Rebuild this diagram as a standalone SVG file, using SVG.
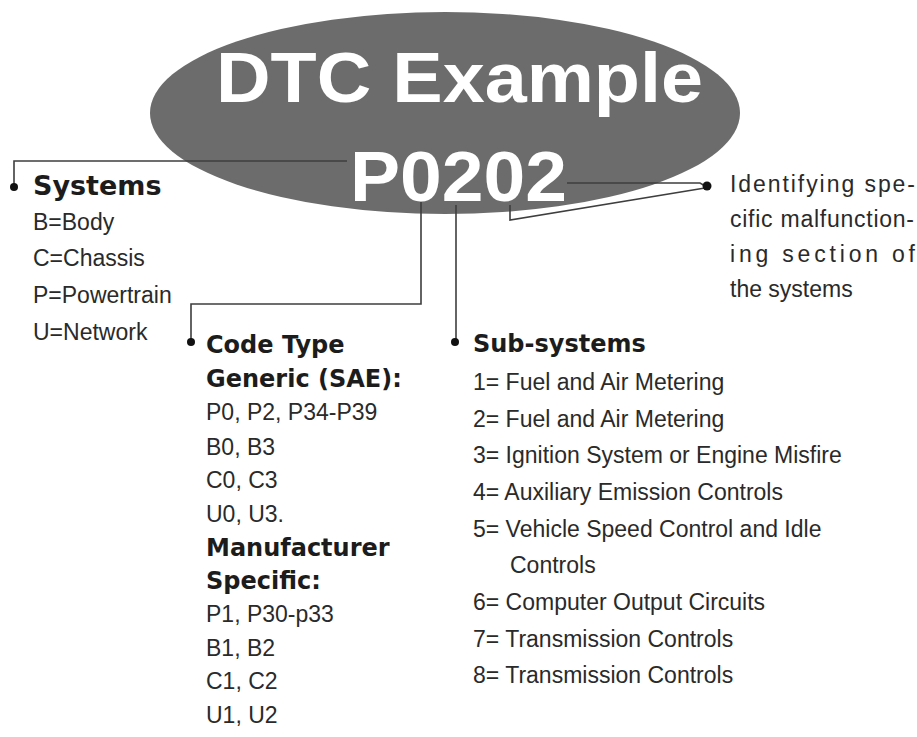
<svg xmlns="http://www.w3.org/2000/svg" width="917" height="737" viewBox="0 0 917 737">
<style>
.bg{fill:#ffffff}
.ell{fill:#6c6c6c}
.title{font-family:"Liberation Sans",Arial,sans-serif;font-weight:bold;fill:#ffffff;font-size:70px}
.head{font-family:"DejaVu Sans",Verdana,sans-serif;font-weight:bold;fill:#1c1c1c}
.body{font-family:"Liberation Sans",Arial,sans-serif;font-size:23px;fill:#2a2a2a}
.conn{fill:none;stroke:#3e3e3e;stroke-width:1.6}
.dot{fill:#111111}
</style>
<rect class="bg" x="0" y="0" width="917" height="737"/>
<g id="dtc-example">
<ellipse class="ell" cx="445" cy="113" rx="295" ry="101"/>
<text class="title" x="216" y="102" textLength="487" lengthAdjust="spacingAndGlyphs">DTC Example</text>
<text class="title" x="350" y="201" font-size="73" textLength="217" lengthAdjust="spacingAndGlyphs">P0202</text>
</g>
<g id="connectors">
<polyline class="conn" points="347,161 14,161 14,187"/>
<polyline class="conn" points="421,202 421,304 191,304 191,342"/>
<polyline class="conn" points="456,205 456,342"/>
<polyline class="conn" points="567,183 700,183 707,187"/>
<polyline class="conn" points="510,205 510,220 705,188"/>
<circle class="dot" cx="14" cy="187" r="4"/>
<circle class="dot" cx="191" cy="342" r="4"/>
<circle class="dot" cx="455" cy="342" r="4"/>
<circle class="dot" cx="707" cy="186" r="4.5"/>
</g>
<g id="systems">
<text class="head" x="33" y="195" font-size="27">Systems</text>
<text class="body" x="33" y="230">B=Body</text>
<text class="body" x="33" y="266">C=Chassis</text>
<text class="body" x="33" y="303">P=Powertrain</text>
<text class="body" x="33" y="340">U=Network</text>
</g>
<g id="code-type">
<text class="head" x="206" y="353" font-size="24">Code Type</text>
<text class="head" x="206" y="387" font-size="24">Generic (SAE):</text>
<text class="body" x="206" y="420">P0, P2, P34-P39</text>
<text class="body" x="206" y="455">B0, B3</text>
<text class="body" x="206" y="488">C0, C3</text>
<text class="body" x="206" y="522">U0, U3.</text>
<text class="head" x="206" y="556" font-size="24">Manufacturer</text>
<text class="head" x="206" y="589" font-size="24">Specific:</text>
<text class="body" x="206" y="622">P1, P30-p33</text>
<text class="body" x="206" y="656">B1, B2</text>
<text class="body" x="206" y="689">C1, C2</text>
<text class="body" x="206" y="723">U1, U2</text>
</g>
<g id="sub-systems">
<text class="head" x="473" y="352" font-size="24">Sub-systems</text>
<text class="body" x="473" y="390">1= Fuel and Air Metering</text>
<text class="body" x="473" y="427">2= Fuel and Air Metering</text>
<text class="body" x="473" y="463">3= Ignition System or Engine Misfire</text>
<text class="body" x="473" y="500">4= Auxiliary Emission Controls</text>
<text class="body" x="473" y="537">5= Vehicle Speed Control and Idle</text>
<text class="body" x="510" y="573">Controls</text>
<text class="body" x="473" y="610">6= Computer Output Circuits</text>
<text class="body" x="473" y="647">7= Transmission Controls</text>
<text class="body" x="473" y="683">8= Transmission Controls</text>
</g>
<g id="identifying">
<text class="body" x="730" y="192" textLength="185" lengthAdjust="spacing">Identifying spe-</text>
<text class="body" x="730" y="227" textLength="184" lengthAdjust="spacing">cific malfunction-</text>
<text class="body" x="730" y="262" textLength="185" lengthAdjust="spacing">ing section of</text>
<text class="body" x="730" y="297">the systems</text>
</g>
</svg>
